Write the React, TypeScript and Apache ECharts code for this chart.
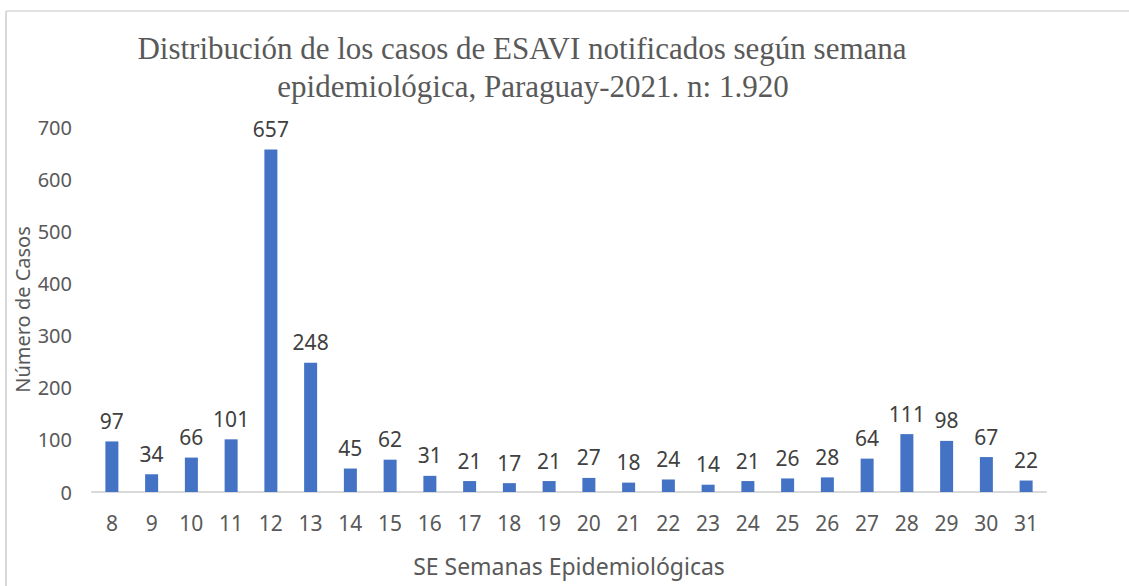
import React, { useEffect, useRef } from "react";
import * as echarts from "echarts";

const weeks = ["8","9","10","11","12","13","14","15","16","17","18","19","20","21","22","23","24","25","26","27","28","29","30","31"];
const cases = [97,34,66,101,657,248,45,62,31,21,17,21,27,18,24,14,21,26,28,64,111,98,67,22];
const titleLine1 = "Distribución de los casos de ESAVI notificados según semana";
const titleLine2 = "epidemiológica, Paraguay-2021. n: 1.920";
const xName = "SE Semanas Epidemiológicas";
const yName = "Número de Casos";

const SANS = "'Noto Sans', sans-serif";
const SERIF = "'Liberation Serif', serif";
const GRAY = "#595959";

export default function App() {
  const ref = useRef<HTMLDivElement>(null);
  useEffect(() => {
    if (!ref.current) return;
    const chart = echarts.init(ref.current, null, { renderer: "svg" });
    chart.setOption({
      animation: false,
      backgroundColor: "#ffffff",
      grid: { left: 92, right: 83, top: 127, bottom: 94, containLabel: false },
      graphic: [
        { type: "line", shape: { x1: 6, y1: 11, x2: 1129, y2: 11 }, style: { stroke: "#d9d9d9", lineWidth: 1.5 } },
        { type: "line", shape: { x1: 6, y1: 11, x2: 6, y2: 586 }, style: { stroke: "#d9d9d9", lineWidth: 2 } },
        { type: "text", x: 522, y: 48, style: { text: titleLine1, font: `31px ${SERIF}`, fill: GRAY, textAlign: "center", textVerticalAlign: "middle" } },
        { type: "text", x: 533, y: 86, style: { text: titleLine2, font: `31px ${SERIF}`, fill: GRAY, textAlign: "center", textVerticalAlign: "middle" } },
      ],
      xAxis: {
        type: "category",
        data: weeks,
        name: xName,
        nameLocation: "middle",
        nameGap: 62,
        nameMoveOverlap: false,
        nameTextStyle: { fontFamily: SANS, fontSize: 23, color: GRAY },
        axisLine: { show: true, lineStyle: { color: "#d9d9d9", width: 2 } },
        axisTick: { show: false },
        axisLabel: { fontFamily: SANS, fontSize: 21, color: GRAY, margin: 20 },
      },
      yAxis: {
        type: "value",
        min: 0,
        max: 700,
        interval: 100,
        name: yName,
        nameLocation: "middle",
        nameGap: 60,
        nameMoveOverlap: false,
        nameTextStyle: { fontFamily: SANS, fontSize: 20, color: GRAY },
        axisLine: { show: false },
        axisTick: { show: false },
        splitLine: { show: false },
        axisLabel: { fontFamily: SANS, fontSize: 20, color: GRAY, margin: 20 },
      },
      series: [
        {
          type: "bar",
          data: cases,
          barWidth: 13,
          itemStyle: { color: "#4472C4" },
          label: { show: true, position: "top", distance: 10, fontFamily: SANS, fontSize: 21, color: "#404040" },
        },
      ],
    });
    return () => chart.dispose();
  }, []);
  return <div ref={ref} style={{ position: "fixed", left: 0, top: 0, width: 1129, height: 586 }} />;
}
